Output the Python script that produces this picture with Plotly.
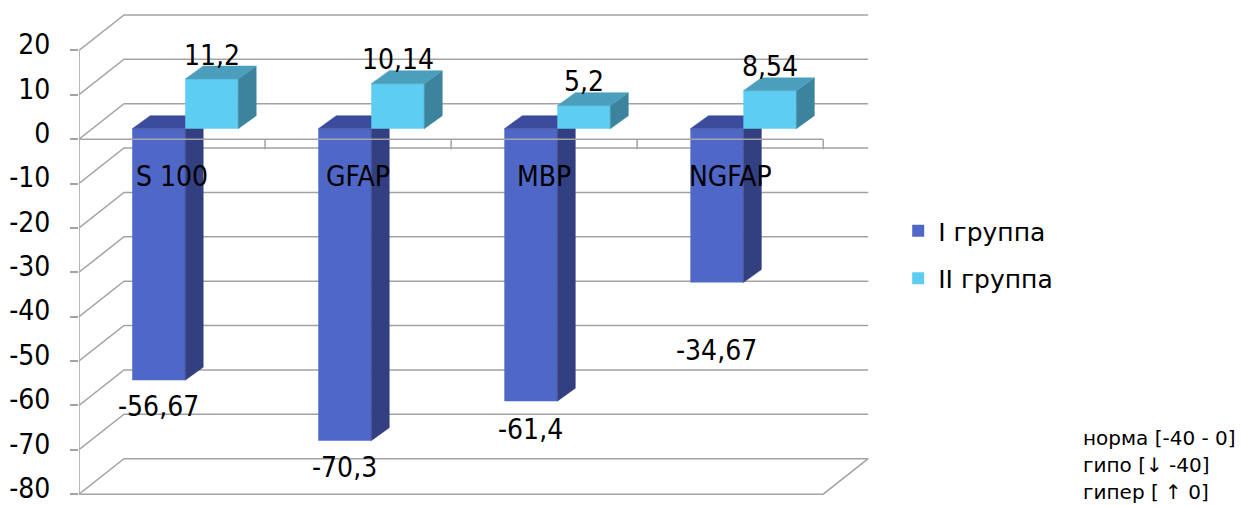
import plotly.graph_objects as go

# ---------------- data ----------------
categories = ["S 100", "GFAP", "MBP", "NGFAP"]
group1 = [-56.67, -70.3, -61.4, -34.67]
group2 = [11.2, 10.14, 5.2, 8.54]
series_names = ["I группа", "II группа"]
y_ticks = [-80, -70, -60, -50, -40, -30, -20, -10, 0, 10, 20]
note_lines = ["норма [-40 - 0]", "гипо [↓ -40]", "гипер [ ↑ 0]"]

# ---------------- style / geometry ----------------
FONT = "DejaVu Sans Condensed, DejaVu Sans, sans-serif"
GRID = "#A3A3A3"
C1 = dict(front="#4F68C8", side="#323F80", top="#3A4C9B")
C2 = dict(front="#5DCDF2", side="#3C849E", top="#4B9EBC")

W, H = 1243, 506
L, R, T, B = 79, 364, 6, 3
XR = [-0.5, 3.8]
YR = [-82, 30]
PXX = (W - L - R) / (XR[1] - XR[0])
PXY = (H - T - B) / (YR[1] - YR[0])

DX, DY = 45 / PXX, 35.5 / PXY          # full wall depth
SX, SY = 13.2 / PXX, 10.4 / PXY        # bar front plane shift
BDX, BDY = 18 / PXX, 13 / PXY          # bar depth
BW = 53 / PXX                          # bar width
TICK = 10 / PXY
LABEL_DROP_I = [26, 27, 28, 68]
LABEL_RISE_II = 24

def fmt(v):
    return f"{v:g}".replace(".", ",")

x0, x1 = -0.5, len(categories) - 0.5
fig = go.Figure()

# back wall grid + left wall diagonals
gx, gy = [], []
for v in y_ticks:
    gx += [x0, x0 + DX, x1 + DX, None]
    gy += [v, v + DY, v + DY, None]
# front vertical axis
gx += [x0, x0, None]
gy += [y_ticks[0], y_ticks[-1], None]
# bottom floor outline
gx += [x0, x1, x1 + DX, None]
gy += [y_ticks[0], y_ticks[0], y_ticks[0] + DY, None]
fig.add_trace(go.Scatter(x=gx, y=gy, mode="lines", line=dict(color=GRID, width=1.5),
                         hoverinfo="skip", showlegend=False))

def add_series(vals, name, colors, offset, ax):
    xa, ya = "x" + ax, "y" + ax
    xs = list(range(len(categories)))
    fig.add_trace(go.Bar(x=xs, y=vals, name=name, width=BW, offset=offset,
                         marker=dict(color=colors["front"], line=dict(width=0)),
                         xaxis=xa, yaxis=ya, legendgroup=name))
    sx, sy, tx, ty = [], [], [], []
    for k, v in enumerate(vals):
        xl = k + offset
        xr = xl + BW
        lo, hi = min(0, v), max(0, v)
        sx += [xr, xr + BDX, xr + BDX, xr, xr, None]
        sy += [lo, lo + BDY, hi + BDY, hi, lo, None]
        tx += [xl, xl + BDX, xr + BDX, xr, xl, None]
        ty += [hi, hi + BDY, hi + BDY, hi, hi, None]
    fig.add_trace(go.Scatter(x=sx, y=sy, fill="toself", fillcolor=colors["side"], mode="lines",
                             line=dict(width=0.5, color=colors["side"]), hoverinfo="skip",
                             showlegend=False, xaxis=xa, yaxis=ya))
    fig.add_trace(go.Scatter(x=tx, y=ty, fill="toself", fillcolor=colors["top"], mode="lines",
                             line=dict(width=0.5, color=colors["top"]), hoverinfo="skip",
                             showlegend=False, xaxis=xa, yaxis=ya))

add_series(group1, series_names[0], C1, -BW, "2")
add_series(group2, series_names[1], C2, 0, "3")

# front category axis line at 0 (drawn over bars) with ticks
ax_x, ax_y = [x0, x1, None], [0, 0, None]
for k in range(len(categories)):
    ax_x += [k + 0.5, k + 0.5, None]
    ax_y += [0, -TICK, None]
fig.add_trace(go.Scatter(x=ax_x, y=ax_y, mode="lines", line=dict(color=GRID, width=1.5),
                         hoverinfo="skip", showlegend=False, xaxis="x4", yaxis="y4"))

ann = []
for k, c in enumerate(categories):
    ann.append(dict(x=k, y=0, xref="x", yref="y", text=c, showarrow=False, yshift=-37,
                    font=dict(size=28, color="black", family=FONT)))
for k, v in enumerate(group1):
    ann.append(dict(x=k - BW / 2, y=v, xref="x2", yref="y2", text=fmt(v), showarrow=False,
                    yshift=-LABEL_DROP_I[k], font=dict(size=28, color="black", family=FONT)))
for k, v in enumerate(group2):
    ann.append(dict(x=k + BW / 2, y=v, xref="x3", yref="y3", text=fmt(v), showarrow=False,
                    yshift=LABEL_RISE_II, font=dict(size=28, color="black", family=FONT)))
note_py = [438, 465, 492]
for line, py in zip(note_lines, note_py):
    ann.append(dict(x=(1081 - L) / (W - L - R), y=(H - B - py) / (H - T - B), xref="paper",
                    yref="paper", xanchor="left", yanchor="middle", text=line, showarrow=False,
                    font=dict(size=20, color="black", family="DejaVu Sans, sans-serif")))

hidden = dict(visible=False, showgrid=False, zeroline=False, fixedrange=True)
fig.update_layout(
    width=W, height=H, margin=dict(l=L, r=R, t=T, b=B, autoexpand=False),
    paper_bgcolor="white", plot_bgcolor="white",
    xaxis=dict(range=XR, automargin=False, **hidden),
    yaxis=dict(range=YR, tickvals=y_ticks, ticktext=[str(v) for v in y_ticks],
               showgrid=False, zeroline=False, showline=False, ticks="outside", ticklen=8,
               tickwidth=1.5, tickcolor=GRID, ticklabelstandoff=14, ticklabeloverflow="allow",
               ticklabelshift=-6, automargin=False,
               tickfont=dict(size=28, color="black", family=FONT)),
    xaxis2=dict(range=[XR[0] - SX, XR[1] - SX], overlaying="x", anchor="y2", **hidden),
    yaxis2=dict(range=[YR[0] - SY, YR[1] - SY], overlaying="y", anchor="x2", **hidden),
    xaxis3=dict(range=[XR[0] - SX, XR[1] - SX], overlaying="x", anchor="y3", **hidden),
    yaxis3=dict(range=[YR[0] - SY, YR[1] - SY], overlaying="y", anchor="x3", **hidden),
    xaxis4=dict(range=XR, overlaying="x", anchor="y4", **hidden),
    yaxis4=dict(range=YR, overlaying="y", anchor="x4", **hidden),
    legend=dict(x=1.024, y=0.50, xanchor="left", yanchor="middle", tracegroupgap=12,
                font=dict(size=25, color="black", family="DejaVu Sans, sans-serif"),
                bgcolor="rgba(0,0,0,0)"),
    annotations=ann,
    showlegend=True,
)
fig.write_html("out.html")
